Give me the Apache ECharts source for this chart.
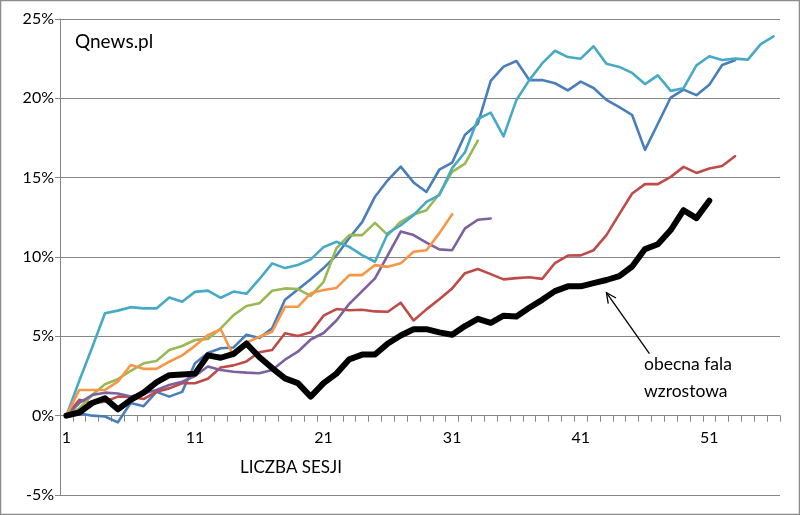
<!DOCTYPE html>
<html><head><meta charset="utf-8">
<script src="https://cdn.jsdelivr.net/npm/echarts/dist/echarts.min.js"></script>
<style>html,body{margin:0;padding:0;background:#fff}#c{width:800px;height:515px}</style>
</head><body><div id="c"></div>
<script>
const categories = ['1','2','3','4','5','6','7','8','9','10','11','12','13','14','15','16','17','18','19','20','21','22','23','24','25','26','27','28','29','30','31','32','33','34','35','36','37','38','39','40','41','42','43','44','45','46','47','48','49','50','51','52','53','54','55','56'];
const yTicks = [-5, 0, 5, 10, 15, 20, 25];

const blueSeries = [0,0.15,0.0,-0.05,-0.42,0.8,0.6,1.5,1.2,1.5,3.3,3.95,4.25,4.3,5.1,4.9,5.5,7.3,7.95,8.6,9.3,10.1,11.2,12.2,13.8,14.85,15.7,14.7,14.1,15.5,15.95,17.7,18.4,21.1,22.0,22.35,21.15,21.15,20.95,20.5,21.05,20.65,19.9,19.45,18.95,16.75,18.4,20.05,20.55,20.2,20.85,22.1,22.4];
const redSeries = [0,1.0,0.8,0.88,1.2,1.2,1.05,1.51,1.72,2.04,2.04,2.33,3.03,3.17,3.42,4.0,4.14,5.19,5.02,5.25,6.3,6.72,6.64,6.68,6.57,6.55,7.12,6.0,6.7,7.34,8.02,8.98,9.24,8.92,8.59,8.67,8.72,8.62,9.62,10.09,10.1,10.43,11.38,12.7,14.0,14.59,14.59,15.05,15.68,15.3,15.58,15.74,16.35];
const greenSeries = [0,0.46,1.3,1.98,2.3,2.83,3.3,3.44,4.14,4.39,4.77,4.84,5.5,6.34,6.91,7.08,7.87,8.02,7.98,7.55,8.44,10.55,11.38,11.38,12.15,11.38,12.22,12.68,12.95,13.97,15.36,15.89,17.34];
const purpleSeries = [0,0.8,1.3,1.45,1.4,1.2,1.4,1.62,1.93,2.14,2.5,3.1,2.88,2.77,2.71,2.67,2.88,3.53,4.03,4.8,5.21,6.0,7.05,7.85,8.65,10.12,11.6,11.38,10.9,10.48,10.43,11.8,12.35,12.43];
const cyanSeries = [0,2.2,4.3,6.45,6.62,6.84,6.76,6.76,7.45,7.18,7.8,7.88,7.43,7.82,7.68,8.6,9.6,9.3,9.5,9.85,10.62,10.96,10.64,10.12,9.7,11.5,12.0,12.64,13.48,13.9,15.6,16.6,18.7,19.1,17.6,19.9,21.15,22.2,23.0,22.6,22.5,23.28,22.18,21.98,21.6,20.9,21.45,20.47,20.64,22.08,22.65,22.42,22.5,22.44,23.42,23.9];
const orangeSeries = [0,1.62,1.62,1.62,2.14,3.19,2.95,2.95,3.4,3.8,4.4,5.08,5.45,3.75,4.6,4.97,5.29,6.86,6.86,7.71,7.92,8.05,8.86,8.86,9.49,9.38,9.6,10.33,10.43,11.49,12.7];
const currentWave = [0,0.2,0.8,1.1,0.4,1.0,1.45,2.1,2.55,2.6,2.65,3.8,3.65,3.9,4.55,3.7,3.0,2.35,2.05,1.2,2.05,2.65,3.55,3.85,3.85,4.55,5.05,5.45,5.45,5.25,5.1,5.65,6.1,5.85,6.3,6.25,6.8,7.3,7.85,8.15,8.15,8.35,8.55,8.8,9.4,10.5,10.8,11.7,12.95,12.45,13.55];

const FONT = 'Lato';
const GRID_TOP = 19, GRID_BOTTOM = 20, H = 515;
const plotH = H - GRID_TOP - GRID_BOTTOM;
const zeroOffset = plotH * (0 - yTicks[0]) / (yTicks[yTicks.length-1] - yTicks[0]);

const chart = echarts.init(document.getElementById('c'), null, {renderer:'canvas'});

function line(data, color, width, z) {
  return {type:'line', data:data, showSymbol:false, symbol:'none', smooth:false,
    lineStyle:{color:color, width:width, join:'round', cap:'round'}, itemStyle:{color:color},
    z:z, animation:false, emphasis:{disabled:true}};
}

chart.setOption({
  animation:false,
  backgroundColor:'#ffffff',
  grid:{left:60, right:20, top:GRID_TOP, bottom:GRID_BOTTOM, containLabel:false, outerBoundsMode:'none'},
  tooltip:{show:false},
  xAxis:{type:'category', data:categories, boundaryGap:true, position:'bottom', offset:-zeroOffset,
    axisLine:{show:true, onZero:false, lineStyle:{color:'#868686', width:1}},
    axisTick:{show:true, interval:0, length:6, lineStyle:{color:'#868686', width:1}},
    axisLabel:{interval:9, color:'#000', fontSize:16, fontFamily:FONT, margin:14},
    splitLine:{show:false}},
  yAxis:{type:'value', min:yTicks[0], max:yTicks[yTicks.length-1], interval:5,
    axisLine:{show:true, lineStyle:{color:'#868686', width:1}},
    axisTick:{show:true, length:5, lineStyle:{color:'#868686'}},
    axisLabel:{formatter:'{value}%', color:'#000', fontSize:16, fontFamily:FONT, margin:6},
    splitLine:{show:true, lineStyle:{color:'#868686', width:1}}},
  series:[
    line(blueSeries, '#4A7EBB', 2.6, 2),
    line(redSeries, '#BE4B48', 2.6, 2),
    line(greenSeries, '#98B954', 2.6, 2),
    line(purpleSeries, '#7D60A0', 2.6, 2),
    line(cyanSeries, '#46AAC5', 2.6, 2),
    line(orangeSeries, '#F79646', 2.6, 2),
    line(currentWave, '#000000', 6, 3)
  ]
});

const tip = chart.convertToPixel({xAxisIndex:0, yAxisIndex:0}, [42, 7.75]);
const tail = [tip[0] + 43, tip[1] + 61];
const dx = tip[0]-tail[0], dy = tip[1]-tail[1];
const len = Math.sqrt(dx*dx+dy*dy), ux = dx/len, uy = dy/len;
const ah = 11, ang = Math.PI/7;
function rot(x,y,a){return [x*Math.cos(a)-y*Math.sin(a), x*Math.sin(a)+y*Math.cos(a)];}
const r1 = rot(-ux,-uy,ang), r2 = rot(-ux,-uy,-ang);

chart.setOption({graphic:[
  {type:'rect', shape:{x:0.5,y:0.5,width:799,height:514}, style:{fill:null, stroke:'#8c8c8c', lineWidth:1.5}, z:100, silent:true},
  {type:'text', left:75, top:32, style:{text:'Qnews.pl', font:'19px '+FONT, fill:'#000'}, z:100},
  {type:'text', left:240, top:459, style:{text:'LICZBA SESJI', font:'17px '+FONT, fill:'#000'}, z:100},
  {type:'text', left:644, top:355, style:{text:'obecna fala', font:'17.5px '+FONT, fill:'#000'}, z:100},
  {type:'text', left:644, top:382, style:{text:'wzrostowa', font:'17.5px '+FONT, fill:'#000'}, z:100},
  {type:'line', shape:{x1:tail[0], y1:tail[1], x2:tip[0], y2:tip[1]}, style:{stroke:'#000', lineWidth:1.3}, z:100},
  {type:'polyline', shape:{points:[[tip[0]+r1[0]*ah, tip[1]+r1[1]*ah],[tip[0],tip[1]],[tip[0]+r2[0]*ah, tip[1]+r2[1]*ah]]}, style:{stroke:'#000', lineWidth:1.3, fill:null}, z:100}
]});
</script>
</body></html>
